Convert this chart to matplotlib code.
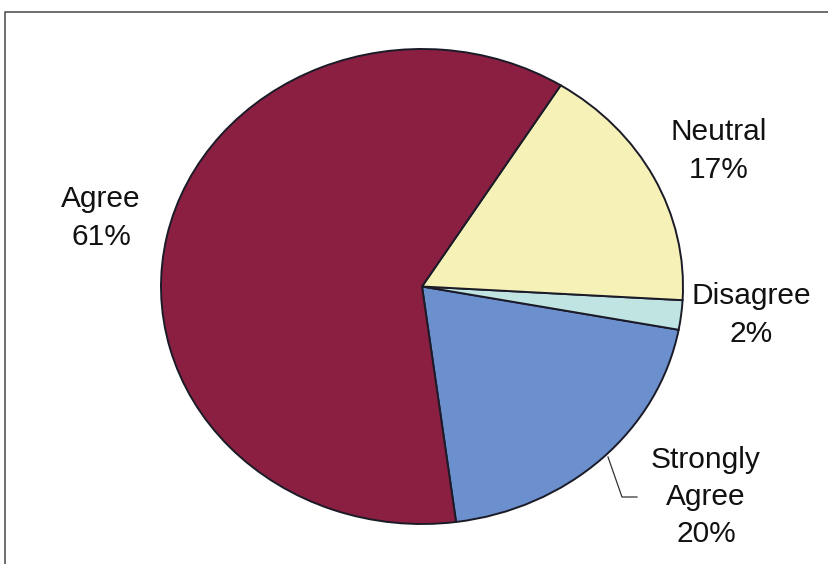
import matplotlib
matplotlib.use("Agg")
import matplotlib.pyplot as plt

categories = ["Strongly\nAgree", "Disagree", "Neutral", "Agree"]
values = [20, 2, 17, 61]
colors = ["#6c8fcd", "#bfe4e1", "#f6f1b7", "#8a1f42"]

W, H = 829, 564
fig = plt.figure(figsize=(W / 100, H / 100), dpi=100)

# pie axes: unit pie stretched into an ellipse by the axis limits
cx, cy, rx, ry = 422.0, 286.5, 261.0, 237.5
ax = fig.add_axes([0, 0, 1, 1])
ax.pie(values, colors=colors, startangle=-82.5, counterclock=True,
       radius=1, frame=True,
       wedgeprops=dict(edgecolor="#1b1b28", linewidth=1.4))
ax.set_aspect("auto")
ax.set_xlim(-cx / rx, (W - cx) / rx)
ax.set_ylim((cy - H) / ry, cy / ry)
ax.axis("off")

# overlay axes in pixel units for border, labels and leader line
ov = fig.add_axes([0, 0, 1, 1], facecolor="none")
ov.set_xlim(0, W)
ov.set_ylim(H, 0)
ov.axis("off")

ov.plot([5.5, 5.5, W + 5], [H + 5, 12, 12], color="#555555", lw=1.2,
        clip_on=False)

font = dict(family="Liberation Sans", fontsize=21.5, color="#111111",
            ha="center", va="center", linespacing=1.42)
label_pos = {
    "Strongly\nAgree": (706, 497),
    "Disagree": (751, 315),
    "Neutral": (719, 151),
    "Agree": (101, 218),
}
for cat, val in zip(categories, values):
    x, y = label_pos[cat]
    ov.text(x, y, f"{cat}\n{val}%", **font)

ov.plot([608, 622, 637], [457, 497, 497], color="#333333", lw=0.9)

fig.savefig("out.png", dpi=100, facecolor="white")
